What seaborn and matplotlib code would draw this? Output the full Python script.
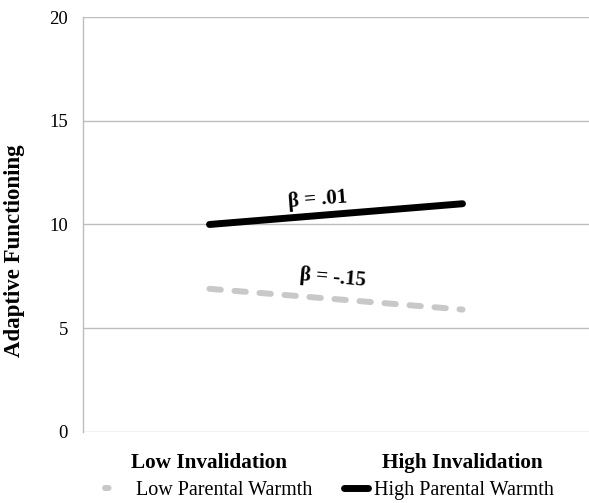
import matplotlib
matplotlib.use("Agg")
import matplotlib.pyplot as plt
import seaborn as sns
import pandas as pd
from matplotlib.lines import Line2D

categories = ["Low Invalidation", "High Invalidation"]
low_warmth = [6.9, 5.9]
high_warmth = [10.0, 11.0]
series_names = ["Low Parental Warmth", "High Parental Warmth"]
annotations = ["β = .01", "β = -.15"]

sns.set_theme(style="white")
plt.rcParams['font.family'] = ['Liberation Serif', 'DejaVu Serif']
plt.rcParams['text.color'] = 'black'
plt.rcParams['axes.labelcolor'] = 'black'
plt.rcParams['xtick.color'] = 'black'
plt.rcParams['ytick.color'] = 'black'

df = pd.DataFrame({
    "cond": categories * 2,
    "val": low_warmth + high_warmth,
    "group": [series_names[0]] * 2 + [series_names[1]] * 2,
})

fig = plt.figure(figsize=(5.89, 5.03), dpi=100)
ax = fig.add_axes([0.1409, 0.1412, 0.8591, 0.8250])

gray = "#c8c8c8"
dash = (0, (1.9, 2.3))
sns.lineplot(data=df[df.group == series_names[0]], x="cond", y="val", ax=ax,
             color=gray, linewidth=4.3, legend=False)
sns.lineplot(data=df[df.group == series_names[1]], x="cond", y="val", ax=ax,
             color="black", linewidth=5.0, legend=False)
l_low, l_high = ax.lines[0], ax.lines[1]
l_low.set_linestyle(dash)
l_low.set_dash_capstyle("round")
l_high.set_solid_capstyle("round")

ax.set_xlim(-0.5, 1.5)
ax.set_ylim(0, 20)
ax.set_yticks([0, 5, 10, 15, 20])
ax.yaxis.grid(True, color="#bdbdbd", linewidth=1.0)
ax.set_axisbelow(True)
for s in ["top", "right", "bottom"]:
    ax.spines[s].set_visible(False)
ax.spines["left"].set_color("#bdbdbd")
ax.spines["left"].set_linewidth(1.0)
ax.tick_params(axis="y", length=0, labelsize=13.5, pad=10.8, labelcolor="black")
ax.tick_params(axis="x", length=0, labelsize=15.3, pad=15, labelcolor="black")
for t in ax.get_xticklabels():
    t.set_fontweight("bold")
ax.set_xlabel("")
ax.set_ylabel("Adaptive Functioning", fontsize=16.5, fontweight="bold", color="black")
ax.yaxis.set_label_coords(-0.1146, 0.436)

ax.text(0.427, 11.18, annotations[0], fontsize=15, fontweight="bold",
        rotation=4.5, ha="center", va="center", color="black")
ax.text(0.486, 7.42, annotations[1], fontsize=15, fontweight="bold",
        rotation=-5.0, ha="center", va="center", color="black")

handles = [
    Line2D([], [], color=gray, linewidth=4.3, linestyle=(0, (0.6, 6)),
           dash_capstyle="round"),
    Line2D([], [], color="black", linewidth=5.0, solid_capstyle="round"),
]
leg = fig.legend(handles, series_names, loc="center", bbox_to_anchor=(0.560, 0.024),
                 ncol=2, frameon=False, fontsize=14.5, handlelength=1.2,
                 handletextpad=0.3, columnspacing=1.6)
for t in leg.get_texts():
    t.set_color("black")

fig.savefig("out.png", dpi=100)
